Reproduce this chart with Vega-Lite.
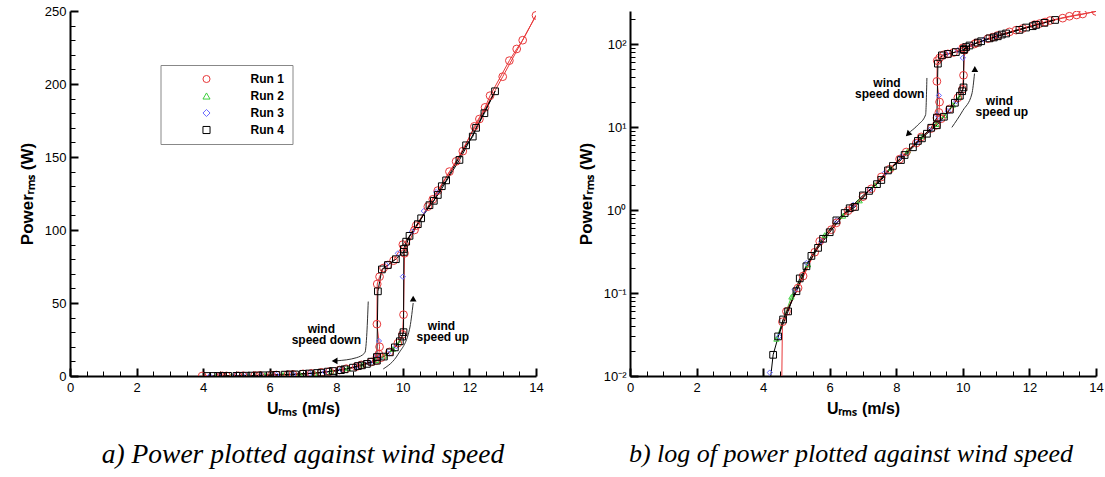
{
  "$schema": "https://vega.github.io/schema/vega-lite/v6.json",
  "padding": {"left": 18, "top": 5, "right": 5, "bottom": 5},
  "spacing": 33,
  "config": {
    "view": {"stroke": null},
    "font": "Liberation Sans",
    "axis": {"domainColor": "#000", "domainWidth": 2, "tickColor": "#000", "labelColor": "#000", "labelFont": "Liberation Sans", "labelFontSize": 13, "titleFont": "Liberation Sans", "titleFontSize": 16, "titleFontWeight": "bold", "titleColor": "#000", "grid": false, "labelFlush": false},
    "title": {"color": "#000"}
  },
  "datasets": {
    "runs": [
      {"run": "Run 2", "i": 1, "u": 4.4, "p": 0.028},
      {"run": "Run 2", "i": 2, "u": 4.85, "p": 0.09},
      {"run": "Run 2", "i": 3, "u": 5.35, "p": 0.22},
      {"run": "Run 2", "i": 4, "u": 5.85, "p": 0.5},
      {"run": "Run 2", "i": 5, "u": 6.4, "p": 0.85},
      {"run": "Run 2", "i": 6, "u": 6.9, "p": 1.3},
      {"run": "Run 2", "i": 7, "u": 7.35, "p": 2.0},
      {"run": "Run 2", "i": 8, "u": 7.85, "p": 3.2},
      {"run": "Run 2", "i": 9, "u": 8.35, "p": 5.2},
      {"run": "Run 2", "i": 10, "u": 8.8, "p": 7.8},
      {"run": "Run 2", "i": 11, "u": 9.2, "p": 10.8},
      {"run": "Run 2", "i": 12, "u": 9.45, "p": 13.8},
      {"run": "Run 2", "i": 13, "u": 9.7, "p": 18.5},
      {"run": "Run 2", "i": 14, "u": 9.9, "p": 23},
      {"run": "Run 3", "i": 1, "u": 4.2, "p": 0.011},
      {"run": "Run 3", "i": 2, "u": 4.48, "p": 0.03},
      {"run": "Run 3", "i": 3, "u": 4.95, "p": 0.11},
      {"run": "Run 3", "i": 4, "u": 5.3, "p": 0.23},
      {"run": "Run 3", "i": 5, "u": 5.75, "p": 0.42},
      {"run": "Run 3", "i": 6, "u": 6.2, "p": 0.75},
      {"run": "Run 3", "i": 7, "u": 6.7, "p": 1.15},
      {"run": "Run 3", "i": 8, "u": 7.2, "p": 1.75},
      {"run": "Run 3", "i": 9, "u": 7.65, "p": 2.8},
      {"run": "Run 3", "i": 10, "u": 8.15, "p": 4.4},
      {"run": "Run 3", "i": 11, "u": 8.6, "p": 6.6},
      {"run": "Run 3", "i": 12, "u": 9.0, "p": 9.2},
      {"run": "Run 3", "i": 13, "u": 9.3, "p": 12},
      {"run": "Run 3", "i": 14, "u": 9.55, "p": 15.5},
      {"run": "Run 3", "i": 15, "u": 9.8, "p": 20.5},
      {"run": "Run 3", "i": 16, "u": 10.0, "p": 68},
      {"run": "Run 3", "i": 17, "u": 10.27, "p": 99},
      {"run": "Run 3", "i": 18, "u": 10.63, "p": 113},
      {"run": "Run 3", "i": 19, "u": 11.0, "p": 126},
      {"run": "Run 3", "i": 20, "u": 9.85, "p": 84},
      {"run": "Run 3", "i": 21, "u": 9.5, "p": 76},
      {"run": "Run 3", "i": 22, "u": 9.28, "p": 24},
      {"run": "Run 3", "i": 23, "u": 9.22, "p": 14},
      {"run": "Run 1", "i": 1, "u": 3.97, "p": 0.0005},
      {"run": "Run 1", "i": 2, "u": 4.53, "p": 0.0008},
      {"run": "Run 1", "i": 3, "u": 4.58, "p": 0.045},
      {"run": "Run 1", "i": 4, "u": 5.05, "p": 0.115},
      {"run": "Run 1", "i": 5, "u": 5.55, "p": 0.31},
      {"run": "Run 1", "i": 6, "u": 6.05, "p": 0.58},
      {"run": "Run 1", "i": 7, "u": 6.55, "p": 0.98},
      {"run": "Run 1", "i": 8, "u": 7.0, "p": 1.45},
      {"run": "Run 1", "i": 9, "u": 7.55, "p": 2.5},
      {"run": "Run 1", "i": 10, "u": 8.1, "p": 4.1},
      {"run": "Run 1", "i": 11, "u": 8.6, "p": 6.4},
      {"run": "Run 1", "i": 12, "u": 9.05, "p": 9.6},
      {"run": "Run 1", "i": 13, "u": 9.35, "p": 12.6},
      {"run": "Run 1", "i": 14, "u": 9.6, "p": 16.5},
      {"run": "Run 1", "i": 15, "u": 9.85, "p": 22.5},
      {"run": "Run 1", "i": 16, "u": 9.99, "p": 28.5},
      {"run": "Run 1", "i": 17, "u": 10.02, "p": 42},
      {"run": "Run 1", "i": 18, "u": 10.05, "p": 84},
      {"run": "Run 1", "i": 19, "u": 10.4, "p": 103},
      {"run": "Run 1", "i": 20, "u": 10.75, "p": 116},
      {"run": "Run 1", "i": 21, "u": 11.05, "p": 127},
      {"run": "Run 1", "i": 22, "u": 11.4, "p": 140},
      {"run": "Run 1", "i": 23, "u": 11.8, "p": 154},
      {"run": "Run 1", "i": 24, "u": 12.15, "p": 171},
      {"run": "Run 1", "i": 25, "u": 12.47, "p": 184},
      {"run": "Run 1", "i": 26, "u": 12.62, "p": 192},
      {"run": "Run 1", "i": 27, "u": 13.2, "p": 216},
      {"run": "Run 1", "i": 28, "u": 13.42, "p": 224},
      {"run": "Run 1", "i": 29, "u": 13.6, "p": 230},
      {"run": "Run 1", "i": 30, "u": 14.0, "p": 247},
      {"run": "Run 1", "i": 31, "u": 13.0, "p": 205},
      {"run": "Run 1", "i": 32, "u": 12.3, "p": 176},
      {"run": "Run 1", "i": 33, "u": 11.6, "p": 147},
      {"run": "Run 1", "i": 34, "u": 10.9, "p": 121},
      {"run": "Run 1", "i": 35, "u": 10.35, "p": 100},
      {"run": "Run 1", "i": 36, "u": 10.0, "p": 90},
      {"run": "Run 1", "i": 37, "u": 9.72, "p": 79},
      {"run": "Run 1", "i": 38, "u": 9.55, "p": 76},
      {"run": "Run 1", "i": 39, "u": 9.42, "p": 74},
      {"run": "Run 1", "i": 40, "u": 9.3, "p": 68},
      {"run": "Run 1", "i": 41, "u": 9.23, "p": 63},
      {"run": "Run 1", "i": 42, "u": 9.22, "p": 35.5},
      {"run": "Run 1", "i": 43, "u": 9.3, "p": 20},
      {"run": "Run 1", "i": 44, "u": 9.28, "p": 15},
      {"run": "Run 1", "i": 45, "u": 9.22, "p": 12.9},
      {"run": "Run 1", "i": 46, "u": 9.2, "p": 10.5},
      {"run": "Run 1", "i": 47, "u": 8.75, "p": 7.6},
      {"run": "Run 1", "i": 48, "u": 8.3, "p": 5.0},
      {"run": "Run 1", "i": 49, "u": 7.8, "p": 3.1},
      {"run": "Run 1", "i": 50, "u": 7.25, "p": 1.8},
      {"run": "Run 1", "i": 51, "u": 6.7, "p": 1.08},
      {"run": "Run 1", "i": 52, "u": 6.2, "p": 0.7},
      {"run": "Run 1", "i": 53, "u": 5.7, "p": 0.42},
      {"run": "Run 1", "i": 54, "u": 5.2, "p": 0.16},
      {"run": "Run 1", "i": 55, "u": 4.7, "p": 0.06},
      {"run": "Run 4", "i": 1, "u": 4.12, "p": 0.004},
      {"run": "Run 4", "i": 2, "u": 4.3, "p": 0.018},
      {"run": "Run 4", "i": 3, "u": 4.6, "p": 0.048},
      {"run": "Run 4", "i": 4, "u": 5.0, "p": 0.105},
      {"run": "Run 4", "i": 5, "u": 5.3, "p": 0.21},
      {"run": "Run 4", "i": 6, "u": 5.65, "p": 0.35},
      {"run": "Run 4", "i": 7, "u": 6.0, "p": 0.54},
      {"run": "Run 4", "i": 8, "u": 6.45, "p": 0.92},
      {"run": "Run 4", "i": 9, "u": 6.76, "p": 1.09},
      {"run": "Run 4", "i": 10, "u": 7.18, "p": 1.7},
      {"run": "Run 4", "i": 11, "u": 7.42, "p": 2.05},
      {"run": "Run 4", "i": 12, "u": 7.75, "p": 3.0},
      {"run": "Run 4", "i": 13, "u": 8.14, "p": 4.0},
      {"run": "Run 4", "i": 14, "u": 8.5, "p": 5.7},
      {"run": "Run 4", "i": 15, "u": 8.77, "p": 7.3},
      {"run": "Run 4", "i": 16, "u": 8.92, "p": 8.3},
      {"run": "Run 4", "i": 17, "u": 9.22, "p": 10.5},
      {"run": "Run 4", "i": 18, "u": 9.43, "p": 13.3},
      {"run": "Run 4", "i": 19, "u": 9.61, "p": 16.2},
      {"run": "Run 4", "i": 20, "u": 9.76, "p": 19.6},
      {"run": "Run 4", "i": 21, "u": 9.91, "p": 23.8},
      {"run": "Run 4", "i": 22, "u": 9.98, "p": 27},
      {"run": "Run 4", "i": 23, "u": 10.02, "p": 30},
      {"run": "Run 4", "i": 24, "u": 10.03, "p": 87},
      {"run": "Run 4", "i": 25, "u": 10.1, "p": 92},
      {"run": "Run 4", "i": 26, "u": 10.45, "p": 104},
      {"run": "Run 4", "i": 27, "u": 10.8, "p": 117},
      {"run": "Run 4", "i": 28, "u": 10.93, "p": 120},
      {"run": "Run 4", "i": 29, "u": 11.17, "p": 130},
      {"run": "Run 4", "i": 30, "u": 11.3, "p": 134},
      {"run": "Run 4", "i": 31, "u": 11.9, "p": 158},
      {"run": "Run 4", "i": 32, "u": 12.1, "p": 164},
      {"run": "Run 4", "i": 33, "u": 12.2, "p": 170},
      {"run": "Run 4", "i": 34, "u": 12.77, "p": 195},
      {"run": "Run 4", "i": 35, "u": 12.45, "p": 180},
      {"run": "Run 4", "i": 36, "u": 11.7, "p": 148},
      {"run": "Run 4", "i": 37, "u": 11.05, "p": 124},
      {"run": "Run 4", "i": 38, "u": 10.55, "p": 108},
      {"run": "Run 4", "i": 39, "u": 10.2, "p": 96},
      {"run": "Run 4", "i": 40, "u": 10.03, "p": 85},
      {"run": "Run 4", "i": 41, "u": 9.79, "p": 80},
      {"run": "Run 4", "i": 42, "u": 9.55, "p": 76},
      {"run": "Run 4", "i": 43, "u": 9.37, "p": 73},
      {"run": "Run 4", "i": 44, "u": 9.25, "p": 58},
      {"run": "Run 4", "i": 45, "u": 9.22, "p": 13},
      {"run": "Run 4", "i": 46, "u": 9.05, "p": 9.8},
      {"run": "Run 4", "i": 47, "u": 8.65, "p": 6.8},
      {"run": "Run 4", "i": 48, "u": 8.25, "p": 4.6},
      {"run": "Run 4", "i": 49, "u": 7.9, "p": 3.4},
      {"run": "Run 4", "i": 50, "u": 7.55, "p": 2.3},
      {"run": "Run 4", "i": 51, "u": 7.0, "p": 1.5},
      {"run": "Run 4", "i": 52, "u": 6.6, "p": 1.05},
      {"run": "Run 4", "i": 53, "u": 6.2, "p": 0.75},
      {"run": "Run 4", "i": 54, "u": 5.8, "p": 0.45},
      {"run": "Run 4", "i": 55, "u": 5.45, "p": 0.28},
      {"run": "Run 4", "i": 56, "u": 5.1, "p": 0.15},
      {"run": "Run 4", "i": 57, "u": 4.75, "p": 0.06},
      {"run": "Run 4", "i": 58, "u": 4.45, "p": 0.03}
    ],
    "arrows": [
      {"panel": "a", "id": "down", "k": 1, "u": 8.96, "p": 51},
      {"panel": "a", "id": "down", "k": 2, "u": 8.92, "p": 30},
      {"panel": "a", "id": "down", "k": 3, "u": 8.86, "p": 16},
      {"panel": "a", "id": "down", "k": 4, "u": 8.6, "p": 12.5},
      {"panel": "a", "id": "down", "k": 5, "u": 8.0, "p": 10.4},
      {"panel": "a", "id": "up", "k": 1, "u": 9.41, "p": 4.8},
      {"panel": "a", "id": "up", "k": 2, "u": 9.86, "p": 15},
      {"panel": "a", "id": "up", "k": 3, "u": 10.2, "p": 32},
      {"panel": "a", "id": "up", "k": 4, "u": 10.31, "p": 50},
      {"panel": "b", "id": "down", "k": 1, "u": 8.92, "p": 39},
      {"panel": "b", "id": "down", "k": 2, "u": 8.88, "p": 14},
      {"panel": "b", "id": "down", "k": 3, "u": 8.65, "p": 10.6},
      {"panel": "b", "id": "down", "k": 4, "u": 8.42, "p": 8.8},
      {"panel": "b", "id": "up", "k": 1, "u": 9.67, "p": 9.9},
      {"panel": "b", "id": "up", "k": 2, "u": 10.0, "p": 15.8},
      {"panel": "b", "id": "up", "k": 3, "u": 10.27, "p": 25},
      {"panel": "b", "id": "up", "k": 4, "u": 10.35, "p": 44}
    ],
    "heads": [
      {"panel": "a", "id": "down", "u": 7.95, "p": 10.3},
      {"panel": "a", "id": "up", "u": 10.31, "p": 53},
      {"panel": "b", "id": "down", "u": 8.35, "p": 8.2},
      {"panel": "b", "id": "up", "u": 10.36, "p": 50}
    ],
    "notes": [
      {"panel": "a", "u": 7.55, "p": 32, "label": "wind"},
      {"panel": "a", "u": 7.7, "p": 24.5, "label": "speed down"},
      {"panel": "a", "u": 11.16, "p": 34, "label": "wind"},
      {"panel": "a", "u": 11.2, "p": 26.5, "label": "speed up"},
      {"panel": "b", "u": 7.72, "p": 34, "label": "wind"},
      {"panel": "b", "u": 7.8, "p": 25, "label": "speed down"},
      {"panel": "b", "u": 11.1, "p": 20.8, "label": "wind"},
      {"panel": "b", "u": 11.17, "p": 15.3, "label": "speed up"}
    ]
  },
  "hconcat": [
    {
      "width": 466,
      "height": 365,
      "title": {"text": "a) Power plotted against wind speed", "orient": "bottom", "font": "Liberation Serif", "fontStyle": "italic", "fontWeight": "normal", "fontSize": 27.5, "offset": 25},
      "resolve": {"axis": {"x": "independent", "y": "independent"}},
      "layer": [
        {
          "data": {"name": "runs"},
          "transform": [{"filter": "datum.run !== 'Run 3'"}],
          "mark": {"type": "line", "strokeWidth": 1, "clip": true},
          "encoding": {
            "x": {"field": "u", "type": "quantitative", "scale": {"domain": [0, 14], "nice": false}, "title": "Uᵣₘₛ  (m/s)",
                  "axis": {"orient": "bottom", "values": [0,2,4,6,8,10,12,14], "ticks": false, "labelPadding": 5, "titlePadding": 6}},
            "y": {"field": "p", "type": "quantitative", "scale": {"domain": [0, 250], "nice": false}, "title": "Powerᵣₘₛ  (W)",
                  "axis": {"orient": "left", "values": [0,50,100,150,200,250], "ticks": false, "labelPadding": 4, "titlePadding": 8, "titleFontSize": 17}},
            "color": {"field": "run", "type": "nominal", "scale": {"domain": ["Run 1", "Run 2", "Run 3", "Run 4"], "range": ["#e8383a", "#3ccf3c", "#6a6aff", "#000000"]}, "title": null},
            "detail": {"field": "run"},
            "order": {"field": "i"}
          }
        },
        {
          "data": {"name": "runs"},
          "mark": {"type": "point", "filled": false, "strokeWidth": 1, "clip": true, "opacity": 1},
          "encoding": {
            "x": {"field": "u", "type": "quantitative", "axis": {"orient": "top", "offset": -365, "values": [0,2,4,6,8,10,12,14], "labels": false, "domain": false, "tickSize": 8, "tickWidth": 2, "title": null}},
            "y": {"field": "p", "type": "quantitative", "axis": {"orient": "right", "offset": -466, "values": [0,50,100,150,200,250], "labels": false, "domain": false, "tickSize": 8, "tickWidth": 2, "title": null}},
            "color": {"field": "run", "type": "nominal", "title": null,
                      "legend": {"orient": "none", "legendX": 90.5, "legendY": 54, "title": " ", "titleFontSize": 8, "titlePadding": 0, "padding": 8, "strokeColor": "#888", "fillColor": "white", "labelFont": "Liberation Sans", "labelFontWeight": "bold", "labelFontSize": 12, "labelColor": "#000", "symbolOffset": 32, "labelOffset": 38, "rowPadding": 5, "symbolSize": 50, "symbolStrokeWidth": 1}},
            "shape": {"field": "run", "type": "nominal", "title": null, "scale": {"domain": ["Run 1", "Run 2", "Run 3", "Run 4"], "range": ["circle", "triangle-up", "diamond", "square"]}},
            "size": {"condition": [{"test": "datum.run === 'Run 1'", "value": 60}, {"test": "datum.run === 'Run 4'", "value": 45}], "value": 28}
          }
        },
        {
          "data": {"name": "arrows"},
          "transform": [{"filter": "datum.panel === 'a'"}],
          "mark": {"type": "line", "color": "#333", "strokeWidth": 1, "interpolate": "monotone"},
          "encoding": {
            "x": {"field": "u", "type": "quantitative", "axis": {"orient": "top", "offset": -365, "values": [1,3,5,7,9,11,13,0.5,1.5,2.5,3.5,4.5,5.5,6.5,7.5,8.5,9.5,10.5,11.5,12.5,13.5], "labels": false, "domain": false, "tickSize": 5, "tickWidth": 1, "title": null}},
            "y": {"field": "p", "type": "quantitative", "axis": {"orient": "right", "offset": -466, "values": [10,20,30,40,60,70,80,90,110,120,130,140,160,170,180,190,210,220,230,240], "labels": false, "domain": false, "tickSize": 5, "tickWidth": 1, "title": null}},
            "detail": {"field": "id"},
            "order": {"field": "k"}
          }
        },
        {
          "data": {"name": "heads"},
          "transform": [{"filter": "datum.panel === 'a' && datum.id === 'down'"}],
          "mark": {"type": "point", "shape": "triangle-left", "filled": true, "color": "#000", "size": 45, "opacity": 1},
          "encoding": {"x": {"field": "u", "type": "quantitative", "axis": null}, "y": {"field": "p", "type": "quantitative", "axis": null}}
        },
        {
          "data": {"name": "heads"},
          "transform": [{"filter": "datum.panel === 'a' && datum.id === 'up'"}],
          "mark": {"type": "point", "shape": "triangle-up", "filled": true, "color": "#000", "size": 45, "opacity": 1},
          "encoding": {"x": {"field": "u", "type": "quantitative", "axis": null}, "y": {"field": "p", "type": "quantitative", "axis": null}}
        },
        {
          "data": {"name": "notes"},
          "transform": [{"filter": "datum.panel === 'a'"}],
          "mark": {"type": "text", "font": "Liberation Sans", "fontWeight": "bold", "fontSize": 12, "color": "#000", "align": "center", "baseline": "middle"},
          "encoding": {"x": {"field": "u", "type": "quantitative", "axis": null}, "y": {"field": "p", "type": "quantitative", "axis": null}, "text": {"field": "label"}}
        }
      ]
    },
    {
      "width": 466,
      "height": 365,
      "title": {"text": "b) log of power plotted against wind speed", "orient": "bottom", "font": "Liberation Serif", "fontStyle": "italic", "fontWeight": "normal", "fontSize": 26, "offset": 25, "dx": -12},
      "resolve": {"axis": {"x": "independent", "y": "independent"}},
      "layer": [
        {
          "data": {"name": "runs"},
          "transform": [{"filter": "datum.run !== 'Run 3'"}],
          "mark": {"type": "line", "strokeWidth": 1, "clip": true},
          "encoding": {
            "x": {"field": "u", "type": "quantitative", "scale": {"domain": [0, 14], "nice": false}, "title": "Uᵣₘₛ (m/s)",
                  "axis": {"orient": "bottom", "values": [0,2,4,6,8,10,12,14], "ticks": false, "labelPadding": 5, "titlePadding": 6}},
            "y": {"field": "p", "type": "quantitative", "scale": {"type": "log", "domain": [0.01, 250], "nice": false}, "title": "Powerᵣₘₛ  (W)",
                  "axis": {"orient": "left", "values": [0.01, 0.1, 1, 10, 100], "labelExpr": "datum.value == 0.01 ? '10⁻²' : datum.value == 0.1 ? '10⁻¹' : datum.value == 1 ? '10⁰' : datum.value == 10 ? '10¹' : '10²'", "labelOverlap": false, "ticks": false, "labelPadding": 4, "titlePadding": 8, "titleFontSize": 17}},
            "color": {"field": "run", "type": "nominal", "scale": {"domain": ["Run 1", "Run 2", "Run 3", "Run 4"], "range": ["#e8383a", "#3ccf3c", "#6a6aff", "#000000"]}, "legend": null},
            "detail": {"field": "run"},
            "order": {"field": "i"}
          }
        },
        {
          "data": {"name": "runs"},
          "mark": {"type": "point", "filled": false, "strokeWidth": 1, "clip": true, "opacity": 1},
          "encoding": {
            "x": {"field": "u", "type": "quantitative", "axis": {"orient": "top", "offset": -365, "values": [0,2,4,6,8,10,12,14], "labels": false, "domain": false, "tickSize": 8, "tickWidth": 2, "title": null}},
            "y": {"field": "p", "type": "quantitative", "axis": {"orient": "right", "offset": -466, "values": [0.01, 0.1, 1, 10, 100], "labels": false, "domain": false, "tickSize": 8, "tickWidth": 2, "title": null}},
            "color": {"field": "run", "type": "nominal", "legend": null},
            "shape": {"field": "run", "type": "nominal", "legend": null, "scale": {"domain": ["Run 1", "Run 2", "Run 3", "Run 4"], "range": ["circle", "triangle-up", "diamond", "square"]}},
            "size": {"condition": [{"test": "datum.run === 'Run 1'", "value": 60}, {"test": "datum.run === 'Run 4'", "value": 45}], "value": 28}
          }
        },
        {
          "data": {"name": "arrows"},
          "transform": [{"filter": "datum.panel === 'b'"}],
          "mark": {"type": "line", "color": "#333", "strokeWidth": 1, "interpolate": "monotone"},
          "encoding": {
            "x": {"field": "u", "type": "quantitative", "axis": {"orient": "top", "offset": -365, "values": [1,3,5,7,9,11,13,0.5,1.5,2.5,3.5,4.5,5.5,6.5,7.5,8.5,9.5,10.5,11.5,12.5,13.5], "labels": false, "domain": false, "tickSize": 5, "tickWidth": 1, "title": null}},
            "y": {"field": "p", "type": "quantitative", "axis": {"orient": "right", "offset": -466, "values": [0.02,0.03,0.04,0.05,0.06,0.07,0.08,0.09,0.2,0.3,0.4,0.5,0.6,0.7,0.8,0.9,2,3,4,5,6,7,8,9,20,30,40,50,60,70,80,90,200], "labels": false, "domain": false, "labelOverlap": false, "tickSize": 5, "tickWidth": 1, "title": null}},
            "detail": {"field": "id"},
            "order": {"field": "k"}
          }
        },
        {
          "data": {"name": "heads"},
          "transform": [{"filter": "datum.panel === 'b' && datum.id === 'down'"}],
          "mark": {"type": "point", "shape": "triangle-down", "angle": 45, "filled": true, "color": "#000", "size": 45, "opacity": 1},
          "encoding": {"x": {"field": "u", "type": "quantitative", "axis": null}, "y": {"field": "p", "type": "quantitative", "axis": null}}
        },
        {
          "data": {"name": "heads"},
          "transform": [{"filter": "datum.panel === 'b' && datum.id === 'up'"}],
          "mark": {"type": "point", "shape": "triangle-up", "filled": true, "color": "#000", "size": 45, "opacity": 1},
          "encoding": {"x": {"field": "u", "type": "quantitative", "axis": null}, "y": {"field": "p", "type": "quantitative", "axis": null}}
        },
        {
          "data": {"name": "notes"},
          "transform": [{"filter": "datum.panel === 'b'"}],
          "mark": {"type": "text", "font": "Liberation Sans", "fontWeight": "bold", "fontSize": 12, "color": "#000", "align": "center", "baseline": "middle"},
          "encoding": {"x": {"field": "u", "type": "quantitative", "axis": null}, "y": {"field": "p", "type": "quantitative", "axis": null}, "text": {"field": "label"}}
        }
      ]
    }
  ]
}
